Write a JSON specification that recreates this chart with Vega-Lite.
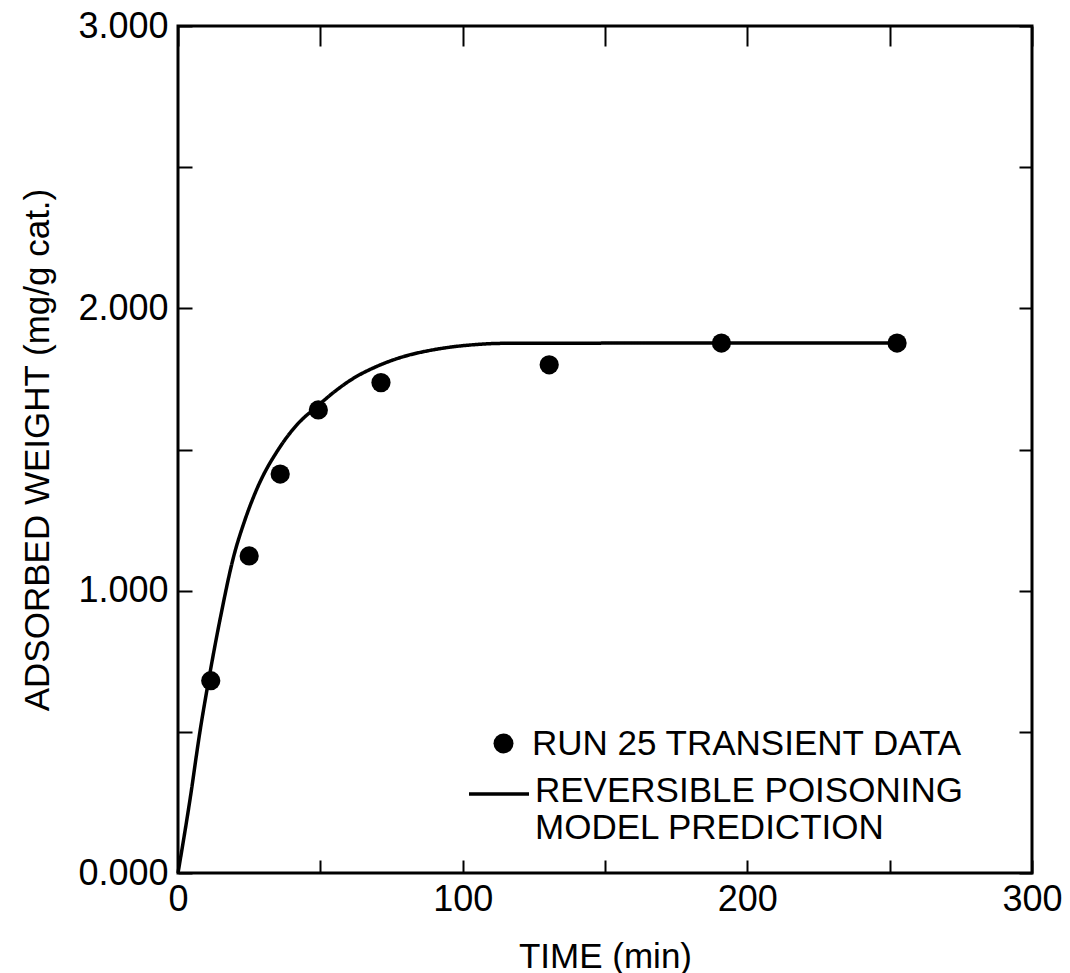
{
  "$schema": "https://vega.github.io/schema/vega-lite/v6.json",
  "width": 854,
  "height": 847,
  "autosize": "none",
  "padding": {"left": 178, "top": 26, "right": 38, "bottom": 100},
  "background": "white",
  "config": {
    "view": {"stroke": "black", "strokeWidth": 3},
    "font": "Liberation Sans",
    "axis": {
      "domain": false,
      "grid": false,
      "tickColor": "black",
      "tickWidth": 2,
      "labelColor": "black",
      "labelFont": "Liberation Sans",
      "labelFontSize": 36,
      "titleFont": "Liberation Sans",
      "titleFontSize": 35,
      "titleFontWeight": "normal",
      "titleColor": "black"
    },
    "legend": {
      "labelFont": "Liberation Sans",
      "labelFontSize": 35,
      "labelColor": "black",
      "labelLimit": 0,
      "padding": 0,
      "offset": 0
    }
  },
  "datasets": {
    "obs": [
      {"time": 11.5, "weight": 0.681},
      {"time": 25.0, "weight": 1.123},
      {"time": 35.9, "weight": 1.413},
      {"time": 49.3, "weight": 1.640},
      {"time": 71.3, "weight": 1.737},
      {"time": 130.4, "weight": 1.800},
      {"time": 190.9, "weight": 1.877},
      {"time": 252.6, "weight": 1.877}
    ],
    "model": [
      {"time": 0, "weight": 0},
      {"time": 4.2, "weight": 0.259},
      {"time": 7.7, "weight": 0.50},
      {"time": 11.2, "weight": 0.707},
      {"time": 15, "weight": 0.91},
      {"time": 19.4, "weight": 1.115},
      {"time": 23.5, "weight": 1.25},
      {"time": 27.7, "weight": 1.36},
      {"time": 35.9, "weight": 1.510},
      {"time": 42, "weight": 1.59},
      {"time": 48.8, "weight": 1.652},
      {"time": 55, "weight": 1.705},
      {"time": 61.6, "weight": 1.752},
      {"time": 70, "weight": 1.795},
      {"time": 79.2, "weight": 1.829},
      {"time": 88, "weight": 1.850},
      {"time": 96.8, "weight": 1.864},
      {"time": 105, "weight": 1.872},
      {"time": 114.3, "weight": 1.876},
      {"time": 180, "weight": 1.877},
      {"time": 252.6, "weight": 1.877}
    ]
  },
  "layer": [
    {
      "data": {"name": "model"},
      "mark": {"type": "line", "color": "black", "strokeWidth": 3.5, "interpolate": "monotone"},
      "encoding": {
        "x": {
          "field": "time", "type": "quantitative",
          "scale": {"domain": [0, 300], "nice": false},
          "axis": {"orient": "top", "values": [0, 50, 100, 150, 200, 250, 300], "labels": false, "tickSize": -20, "title": null}
        },
        "y": {
          "field": "weight", "type": "quantitative",
          "scale": {"domain": [0, 3], "nice": false},
          "axis": {"orient": "right", "values": [0, 0.5, 1, 1.5, 2, 2.5, 3], "labels": false, "tickSize": -13, "title": null}
        },
        "strokeDash": {
          "datum": "REVERSIBLE POISONING MODEL PREDICTION",
          "scale": {"domain": ["REVERSIBLE POISONING MODEL PREDICTION"], "range": [[1, 0]]},
          "legend": {
            "title": null,
            "orient": "none",
            "legendX": 289,
            "legendY": 733,
            "symbolSize": 3600,
            "symbolStrokeWidth": 3.5,
            "symbolStrokeColor": "black",
            "symbolType": "M-1,0.1H1",
            "symbolOffset": 0,
            "labelOffset": 4,
            "labelBaseline": "middle",
            "labelExpr": "['REVERSIBLE POISONING', 'MODEL PREDICTION']"
          }
        }
      }
    },
    {
      "data": {"name": "obs"},
      "mark": {"type": "point", "filled": true, "size": 370, "color": "black", "opacity": 1},
      "encoding": {
        "x": {
          "field": "time", "type": "quantitative",
          "axis": {
            "orient": "bottom",
            "values": [0, 50, 100, 150, 200, 250, 300],
            "labelExpr": "datum.value % 100 === 0 ? format(datum.value, 'd') : ''",
            "tickSize": -13,
            "labelPadding": 22,
            "labelFlush": false,
            "labelOverlap": false,
            "title": "TIME (min)",
            "titlePadding": 22
          }
        },
        "y": {
          "field": "weight", "type": "quantitative",
          "axis": {
            "orient": "left",
            "values": [0, 0.5, 1, 1.5, 2, 2.5, 3],
            "labelExpr": "datum.value % 1 === 0 ? format(datum.value, '.3f') : ''",
            "tickSize": -14,
            "labelPadding": 24,
            "labelFlush": false,
            "labelOverlap": false,
            "title": "ADSORBED WEIGHT (mg/g cat.)",
            "titlePadding": 22
          }
        },
        "shape": {
          "datum": "RUN 25 TRANSIENT DATA",
          "scale": {"domain": ["RUN 25 TRANSIENT DATA"], "range": ["circle"]},
          "legend": {
            "title": null,
            "orient": "none",
            "legendX": 308,
            "legendY": 700,
            "symbolSize": 400,
            "symbolFillColor": "black",
            "symbolStrokeColor": "black",
            "symbolOffset": 0,
            "labelOffset": 11,
            "labelBaseline": "middle"
          }
        }
      }
    }
  ],
  "resolve": {"axis": {"x": "independent", "y": "independent"}}
}
